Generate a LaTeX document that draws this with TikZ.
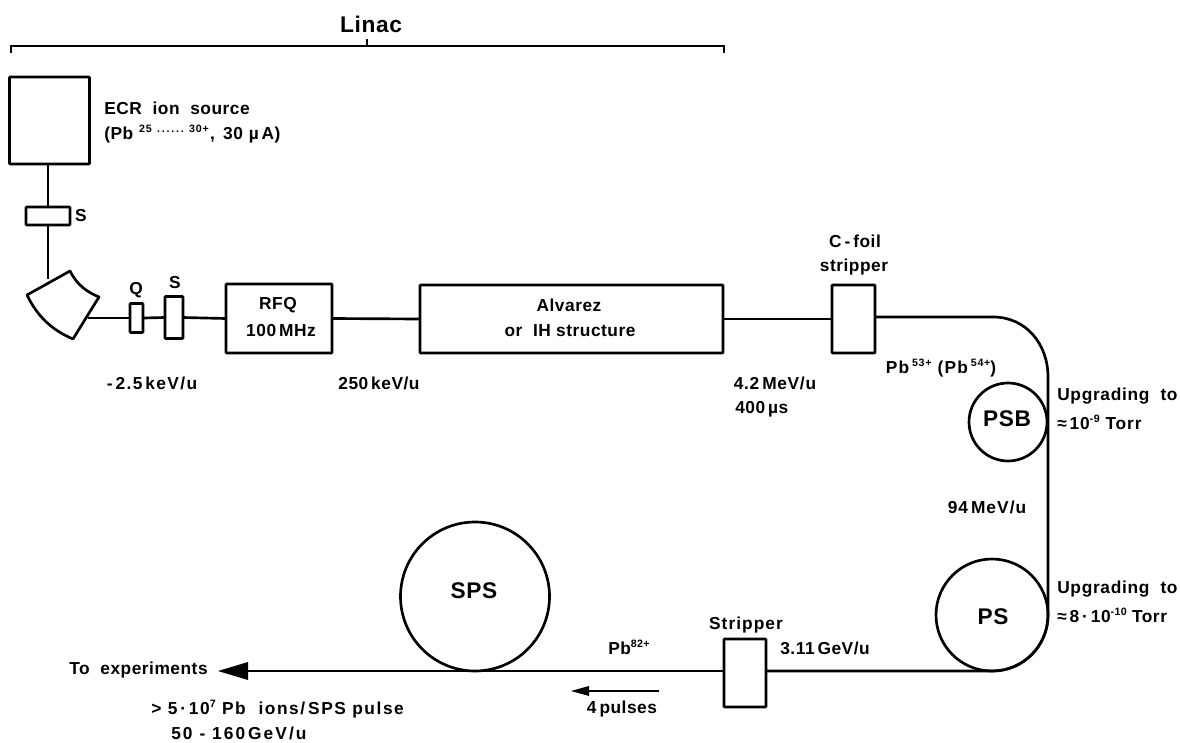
\documentclass[tikz,border=0pt]{standalone}
\usepackage{fontspec}
\setmainfont{Liberation Sans}
\newcommand{\sz}[1]{\fontsize{#1}{#1}\selectfont\bfseries\addfontfeature{LetterSpace=3}}
\newcommand{\wid}[1]{\addfontfeature{LetterSpace=#1}}
\newcommand{\up}[1]{\raisebox{0.75ex}{\fontsize{8}{9}\selectfont\bfseries #1}}
\tikzset{
 x=0.75pt,y=-0.75pt,
 wh/.style 2 args={minimum width=#1*0.75pt,minimum height=#2*0.75pt},
 beam/.style={line width=2pt,line join=round},
 comp/.style={draw,line width=2pt,fill=white,inner sep=0pt,outer sep=0pt,rounded corners=0.5pt},
 ring/.style={draw,circle,line width=2pt,inner sep=0pt,outer sep=0pt},
 lab/.style={inner sep=0pt,anchor=west,font=\sz{13}},
 clab/.style={inner sep=0pt,anchor=center,font=\sz{13}}
}
\begin{document}
\begin{tikzpicture}
\useasboundingbox (0,0) rectangle (1180,742);
% bracket
\coordinate (bl) at (11,53); \coordinate (br) at (724,53);
\coordinate (bt) at (367,46); \coordinate (btt) at (367,39);
\draw[line width=0.8pt] (bl) -- (11,46) -- (724,46) -- (br);
\draw[line width=0.8pt] (bt) -- (btt);
\node[clab,font=\sz{17}] (linac) at (371,24) {Linac};
% beam lines
\coordinate (bend) at (49,279);
\coordinate (mout) at (88,318);
\node[comp,wh={80}{87}] (ecr) at (49.5,120.5) {};
\node[comp,wh={44}{18}] (s1) at (48,216) {};
\node[comp,wh={13}{29}] (q) at (136.5,318) {};
\node[comp,wh={18}{42}] (s2) at (174,317.5) {};
\node[comp,wh={106}{69}] (rfq) at (279,318.5) {};
\node[comp,wh={303}{68}] (alv) at (571.5,319) {};
\node[comp,wh={43}{68}] (cf) at (853.5,319) {};
\node[comp,wh={42}{68}] (st) at (745,673) {};
\draw[beam] (s1.north) -- (s1.north |- ecr.south);
\draw[beam] (s1.south) -- (s1.south |- bend);
\draw[beam] (mout) -- (q.west);
\draw[beam] (q.east) -- (s2.west);
\draw[beam] (s2.east) -- (rfq.west);
\draw[beam] (rfq.east) -- (alv.west);
\draw[beam] (alv.east) -- (cf.west);
\coordinate (c1) at (993,317); \coordinate (c2) at (1048,377);
\coordinate (c3) at (1048,615); \coordinate (c4) at (993,671);
\draw[beam] (cf.east |- c1) -- (c1) .. controls (1026,317) and (1048,344) .. (c2) -- (c3) .. controls (1048,646) and (1023,671) .. (c4) -- (st.east |- c4);
\coordinate (tip) at (218,671);
\draw[beam,line width=2.2pt] (st.west |- tip) -- (240,671);
\fill (tip) -- (248,662) -- (248,680) -- cycle;
% magnet
\draw[line width=2pt,line join=round,fill=white] (27,295) -- (70,271) .. controls (77,285) and (87,292) .. (99,297) -- (73,339) .. controls (54,331) and (38,318) .. (27,295) -- cycle;
% rings
\node[ring,minimum size=78*0.75pt] (psb) at (1008,422) {};
\node[ring,minimum size=112*0.75pt] (ps) at (992,615) {};
\node[ring,minimum size=149*0.75pt] (sps) at (475,596.5) {};
\node[clab,font=\sz{17}] (psbl) at (1007,419) {PSB};
\node[clab,font=\sz{17}] (psl) at (993,617) {PS};
\node[clab,font=\sz{17}] (spsl) at (474,591) {SPS};
% small arrow
\coordinate (a1) at (659,691); \coordinate (a2) at (571,691);
\draw[line width=1.2pt] (a1) -- (589,691);
\fill (a2) -- (589,686) -- (589,696) -- cycle;
% labels
\node[lab] (t1) at (104,108) {ECR \ ion \ source};
\node[lab] (t2) at (104,134) {(Pb\,\,\up{\wid{8}25\,\,\,.\,.\,.\,.\,.\,.\,\,\,30+}\hspace{1pt}, \,30\,\,µ\,A)};
\node[clab] (ts1) at (81,216) {S};
\node[clab] (tq) at (136,290) {Q};
\node[clab] (ts2) at (175,283) {S};
\node[clab] (rfq1) at (278,305) {RFQ};
\node[clab] (rfq2) at (281,331) {100\,MHz};
\node[clab] (alv1) at (569,305) {Alvarez};
\node[clab] (alv2) at (570,331) {or \ IH structure};
\node[clab,font=\sz{13}\wid{8}] (t3) at (152,383) {-\,2.5\,keV/u};
\node[clab] (t4) at (379,383) {250\,keV/u};
\node[clab,font=\sz{13}\wid{4}] (t5) at (775,383) {4.2\,MeV/u};
\node[lab] (t6) at (735,409) {400\,µs};
\node[clab] (t7) at (855,241) {C\,-\,foil};
\node[clab] (t8) at (854,267) {stripper};
\node[clab,font=\sz{13}\wid{7}] (t9) at (941,368) {Pb\,\up{53+} (Pb\,\up{54+})};
\node[lab,font=\sz{13}\wid{4}] (t10) at (1057,396) {Upgrading \ to};
\node[lab,font=\sz{13}\wid{5}] (t11) at (1057,422) {≈\,10\up{-9} Torr};
\node[clab,font=\sz{13}\wid{6}] (t12) at (987,507) {94\,MeV/u};
\node[lab,font=\sz{13}\wid{4}] (t13) at (1057,589) {Upgrading \ to};
\node[lab] (t14) at (1057,615) {≈\,8\,·\,10\up{-10} Torr};
\node[clab,font=\sz{13}\wid{6}] (t15) at (746,625) {Stripper};
\node[clab] (t16) at (825,648) {3.11\,GeV/u};
\node[clab] (t17) at (629,647) {Pb\up{82+}};
\node[lab,font=\sz{13}\wid{3}] (t18) at (69,670) {To \ experiments};
\node[clab] (t19) at (622,709) {4\,pulses};
\node[lab,font=\sz{13}\wid{9}] (t20) at (151,709) {> 5\,·\,10\up{7} Pb \ ions/\,SPS pulse};
\node[lab,font=\sz{13}\wid{12}] (t21) at (171,733) {50 - 160\,GeV/u};
\end{tikzpicture}
\end{document}
